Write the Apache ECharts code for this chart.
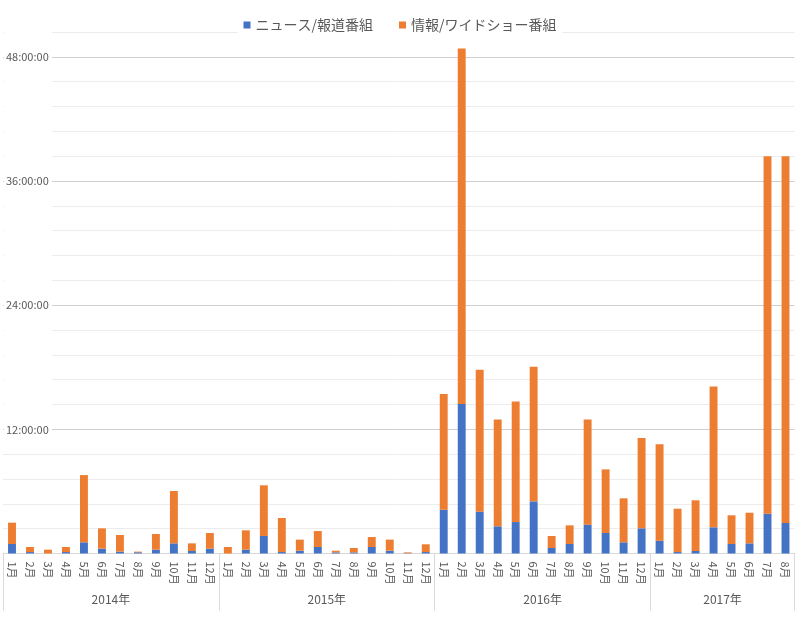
<!DOCTYPE html>
<html>
<head>
<meta charset="utf-8">
<script src="https://cdn.jsdelivr.net/npm/echarts@6/dist/echarts.min.js"></script>
<style>html,body{margin:0;padding:0;background:#fff}#c{width:800px;height:619px}</style>
</head>
<body>
<div id="c"></div>
<script>
// ---- data (hours) ----
const years = ["2014年", "2015年", "2016年", "2017年"];
const monthsPerYear = [12, 12, 12, 8];
const seriesNames = ["ニュース/報道番組", "情報/ワイドショー番組"];
const newsHours = [
  0.92, 0.14, 0.00, 0.14, 1.08, 0.47, 0.18, 0.12, 0.37, 0.98, 0.24, 0.47,
  0.00, 0.37, 1.69, 0.14, 0.27, 0.63, 0.11, 0.11, 0.63, 0.27, 0.03, 0.14,
  4.23, 14.44, 4.04, 2.63, 3.04, 5.04, 0.53, 0.92, 2.79, 1.98, 1.08, 2.43,
  1.24, 0.14, 0.24, 2.53, 0.92, 0.98, 3.85, 2.95
];
const infoHours = [
  2.06, 0.49, 0.37, 0.49, 6.50, 1.96, 1.61, 0.06, 1.51, 5.06, 0.74, 1.51,
  0.63, 1.87, 4.90, 3.29, 1.07, 1.54, 0.16, 0.42, 0.96, 1.07, 0.08, 0.75,
  11.18, 34.36, 13.72, 10.33, 11.66, 13.01, 1.16, 1.80, 10.17, 6.15, 4.25, 8.73,
  9.31, 4.19, 4.90, 13.62, 2.77, 2.96, 34.55, 35.45
];
const yMax = 50.4;
const yStep = 2.4;
const yLabelStep = 12;

// ---- derived ----
const monthLabels = [];
const yearBounds = [0];
const yearCenters = [];
let acc = 0;
monthsPerYear.forEach(n => {
  for (let m = 1; m <= n; m++) monthLabels.push(m + "月");
  yearCenters.push(acc + n / 2);
  acc += n;
  yearBounds.push(acc);
});
const totalMonths = acc;
const minorPerMajor = Math.round(yLabelStep / yStep);

function fmtHours(v) {
  const h = Math.round(v);
  return h + ":00:00";
}
const TXT = "#595959";
const GRID = "#d9d9d9";
const MAJOR = "#d0d0d0";
const MINOR = "#ececec";
const FONT = "'Noto Sans CJK JP', 'Noto Sans', sans-serif";
const gridColors = [MAJOR];
for (let i = 1; i < minorPerMajor; i++) gridColors.push(MINOR);

const chart = echarts.init(document.getElementById("c"));
chart.setOption({
  animation: false,
  textStyle: { fontFamily: FONT },
  color: ["#4472C4", "#ED7D31"],
  legend: {
    top: 14,
    left: "center",
    itemWidth: 7,
    itemHeight: 7,
    itemGap: 26,
    icon: "rect",
    backgroundColor: "#fff",
    padding: [4, 6],
    textStyle: { color: TXT, fontSize: 14, fontFamily: FONT }
  },
  grid: { left: 3, right: 5.5, top: 32, bottom: 65.5, containLabel: false },
  graphic: [{
    type: "rect", z: 1, silent: true,
    shape: { x: 4, y: 20, width: 48, height: 420 },
    style: { fill: "#fff" }
  }],
  xAxis: [{
    type: "category",
    data: monthLabels,
    position: "bottom",
    axisLine: { lineStyle: { color: GRID } },
    axisTick: { show: false },
    axisLabel: { rotate: -90, color: TXT, fontSize: 11, margin: 8, interval: 0 }
  }, {
    type: "value",
    min: 0,
    max: totalMonths,
    position: "bottom",
    axisLine: { show: false },
    splitLine: { show: false },
    axisTick: { show: true, customValues: yearBounds, length: 57, lineStyle: { color: GRID } },
    axisLabel: {
      customValues: yearCenters,
      margin: 40,
      color: TXT,
      fontSize: 12,
      formatter: v => {
        const i = yearCenters.findIndex(c => Math.abs(c - v) < 1e-6);
        return i >= 0 ? years[i] : "";
      }
    }
  }],
  yAxis: [{
    type: "value",
    min: 0, max: yMax, interval: yStep,
    axisLine: { show: false }, axisTick: { show: false },
    axisLabel: { show: false },
    splitLine: { lineStyle: { color: gridColors } }
  }, {
    type: "value",
    min: 0, max: yMax, interval: yStep,
    position: "left",
    z: 5,
    axisLine: { show: false }, axisTick: { show: false },
    splitLine: { show: false },
    axisLabel: {
      inside: true,
      margin: 3,
      color: TXT,
      fontSize: 11,
      formatter: v => {
        const r = v / yLabelStep;
        if (v > 0 && Math.abs(r - Math.round(r)) < 1e-6) return fmtHours(v);
        return "";
      }
    }
  }],
  series: [{
    name: seriesNames[0],
    type: "bar",
    stack: "t",
    barWidth: "44%",
    xAxisIndex: 0, yAxisIndex: 0,
    data: newsHours
  }, {
    name: seriesNames[1],
    type: "bar",
    stack: "t",
    barWidth: "44%",
    xAxisIndex: 0, yAxisIndex: 0,
    data: infoHours
  }]
});
</script>
</body>
</html>
